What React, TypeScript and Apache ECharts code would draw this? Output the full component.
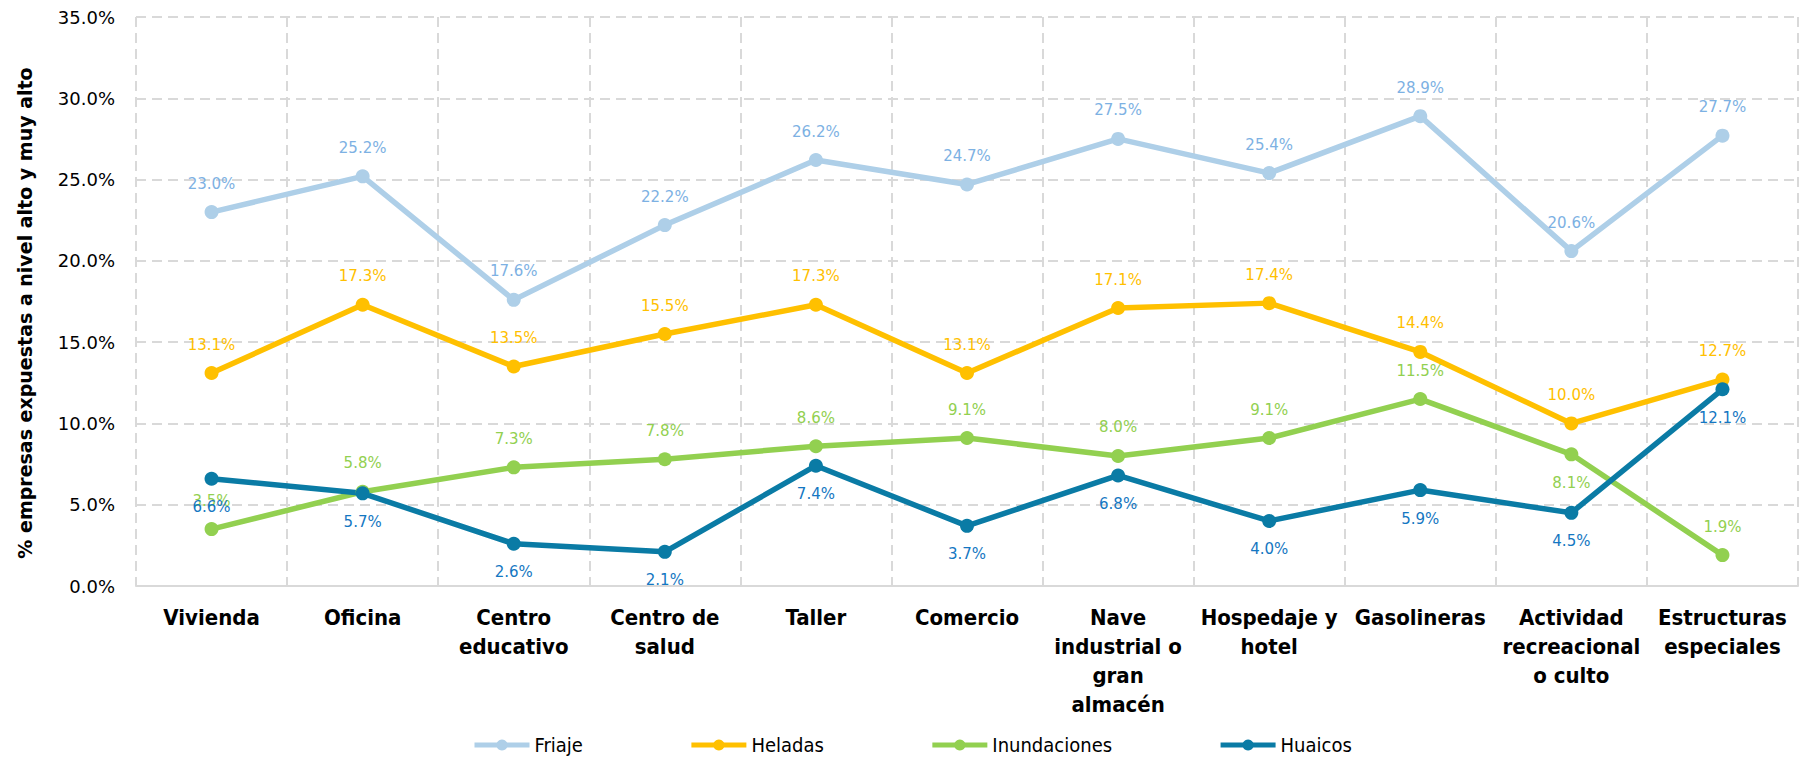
import React, { useEffect, useRef } from "react";
import * as echarts from "echarts";

const categories = [
  "Vivienda",
  "Oficina",
  "Centro\neducativo",
  "Centro de\nsalud",
  "Taller",
  "Comercio",
  "Nave\nindustrial o\ngran\nalmacén",
  "Hospedaje y\nhotel",
  "Gasolineras",
  "Actividad\nrecreacional\no culto",
  "Estructuras\nespeciales",
];

const friaje = [23.0, 25.2, 17.6, 22.2, 26.2, 24.7, 27.5, 25.4, 28.9, 20.6, 27.7];
const heladas = [13.1, 17.3, 13.5, 15.5, 17.3, 13.1, 17.1, 17.4, 14.4, 10.0, 12.7];
const inundaciones = [3.5, 5.8, 7.3, 7.8, 8.6, 9.1, 8.0, 9.1, 11.5, 8.1, 1.9];
const huaicos = [6.6, 5.7, 2.6, 2.1, 7.4, 3.7, 6.8, 4.0, 5.9, 4.5, 12.1];
// label position for each Inundaciones point
const inundacionesLabelPos = ["top", "top", "top", "top", "top", "top", "top", "top", "top", "bottom", "top"];

const yTicks = { min: 0, max: 35, interval: 5 };
const yTitle = "% empresas expuestas a nivel alto y muy alto";

const COND = "'DejaVu Sans Condensed', 'DejaVu Sans', sans-serif";
const SANS = "'DejaVu Sans', sans-serif";

export default function App() {
  const ref = useRef<HTMLDivElement>(null);
  useEffect(() => {
    if (!ref.current) return;
    const chart = echarts.init(ref.current, undefined, { renderer: "svg" });
    const fmt = (v: number) => v.toFixed(1) + "%";
    const mk = (
      name: string,
      data: number[],
      color: string,
      labelColor: string,
      pos: string | string[]
    ) => ({
      name,
      type: "line",
      data: data.map((v, i) => ({
        value: v,
        label: { position: Array.isArray(pos) ? pos[i] : pos },
      })),
      symbol: "circle",
      symbolSize: 14,
      lineStyle: { width: 5.5, color },
      itemStyle: { color },
      label: {
        show: true,
        color: labelColor,
        fontFamily: SANS,
        fontSize: 15,
        distance: 14,
        formatter: (p: any) => fmt(p.value),
      },
    });
    chart.setOption({
      animation: false,
      backgroundColor: "#ffffff",
      grid: { left: 136, right: 5, top: 17, bottom: 173, containLabel: false },
      legend: {
        left: 472,
        top: 735,
        padding: 0,
        itemWidth: 55,
        itemHeight: 14,
        itemGap: 106,
        lineStyle: { width: 5 },
        textStyle: { fontFamily: COND, fontSize: 20, color: "#000" },
        data: ["Friaje", "Heladas", "Inundaciones", "Huaicos"],
      },
      graphic: [
        {
          type: "text",
          x: 25,
          y: 313,
          rotation: Math.PI / 2,
          style: {
            text: yTitle,
            fontFamily: SANS,
            fontWeight: "bold",
            fontSize: 19,
            fill: "#000",
            align: "center",
            verticalAlign: "middle",
          },
        },
      ],
      xAxis: {
        type: "category",
        data: categories,
        boundaryGap: true,
        axisLine: { show: true, lineStyle: { color: "#D9D9D9", width: 2 } },
        axisTick: { show: false },
        splitLine: {
          show: true,
          lineStyle: { color: "#D9D9D9", width: 2, type: [10, 6] },
        },
        axisLabel: {
          interval: 0,
          color: "#000",
          fontFamily: COND,
          fontWeight: "bold",
          fontSize: 22,
          lineHeight: 29,
          margin: 17,
        },
      },
      yAxis: {
        type: "value",
        min: yTicks.min,
        max: yTicks.max,
        interval: yTicks.interval,
        axisLine: { show: false },
        axisTick: { show: false },
        splitLine: {
          show: true,
          lineStyle: { color: "#D9D9D9", width: 2, type: [10, 6] },
        },
        axisLabel: {
          color: "#000",
          fontFamily: SANS,
          fontSize: 18,
          margin: 21,
          formatter: (v: number) => fmt(v),
        },
      },
      series: [
        mk("Friaje", friaje, "#AECFE8", "#7DB1E3", "top"),
        mk("Heladas", heladas, "#FFC000", "#FFC000", "top"),
        mk("Inundaciones", inundaciones, "#92D050", "#92D050", inundacionesLabelPos),
        mk("Huaicos", huaicos, "#0A7BA5", "#1477C2", "bottom"),
      ],
    });
    return () => chart.dispose();
  }, []);
  return (
    <div
      ref={ref}
      style={{ width: 1803, height: 759, position: "absolute", left: 0, top: 0 }}
    />
  );
}
